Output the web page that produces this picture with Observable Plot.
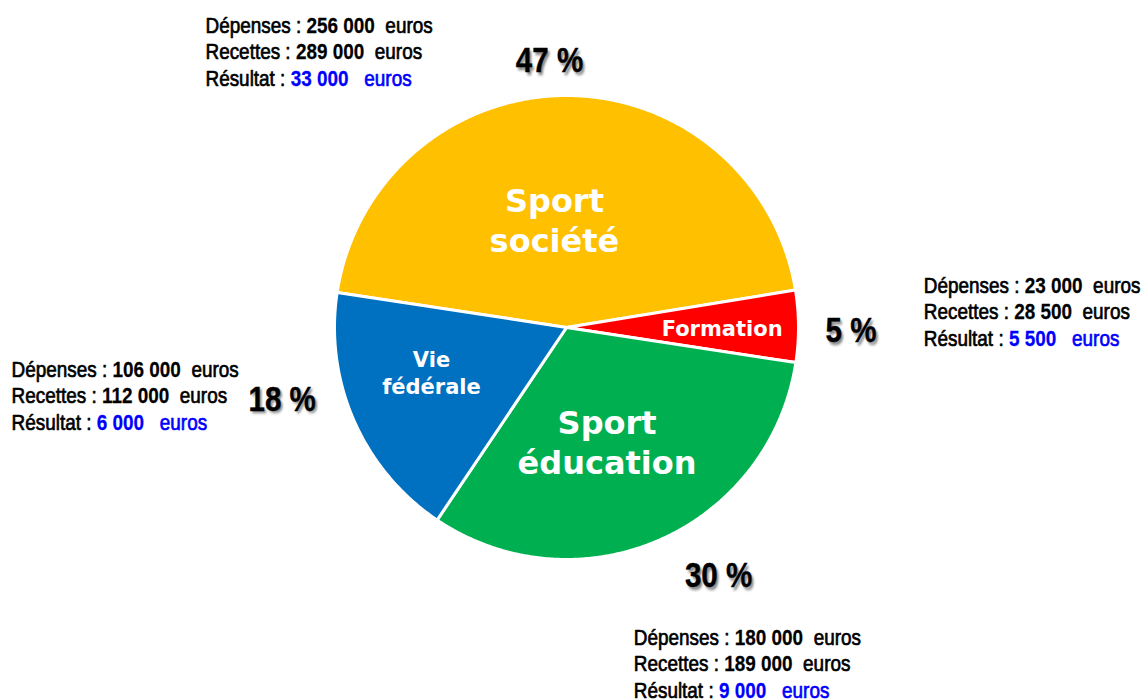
<!DOCTYPE html>
<html>
<head>
<meta charset="utf-8">
<script src="https://cdn.jsdelivr.net/npm/d3@7"></script>
<script src="https://cdn.jsdelivr.net/npm/@observablehq/plot@0.6"></script>
<style>
  html, body { margin: 0; padding: 0; background: #fff; }
  #chart svg { display: block; }
  text[aria-label="pct-shadow"] { filter: url(#softshadow); }
</style>
</head>
<body>
<svg width="0" height="0" style="position:absolute">
  <defs>
    <filter id="softshadow" x="-20%" y="-30%" width="140%" height="160%">
      <feGaussianBlur stdDeviation="1.4"/>
    </filter>
  </defs>
</svg>
<div id="chart"></div>
<script>
// ---------- data ----------
const categories = ["Sport société", "Formation", "Sport éducation", "Vie fédérale"];
const sliceLabels = ["Sport\nsociété", "Formation", "Sport\néducation", "Vie\nfédérale"];
const sliceShares = [45, 5, 32, 18];           // angular share
const percentLabels = ["47 %", "5 %", "30 %", "18 %"];
const lineNames = ["Dépenses", "Recettes", "Résultat"];
const depenses = [256000, 23000, 180000, 106000];
const recettes = [289000, 28500, 189000, 112000];
const resultats = [33000, 5500, 9000, 6000];
const colors = ["#FFC000", "#FF0000", "#00B050", "#0070C0"];

// ---------- layout (pie radius units, y up, origin at pie centre) ----------
const W = 1147, H = 700, R = 232, CX = 566, CY = 327;
const startAngleDeg = -81.3;
const sliceLabelPos = [
  {x: -0.052, y: 0.3246, size: 32, lh: 1.25},
  {x: 0.671, y: -0.0345, size: 21, lh: 1.25},
  {x: 0.175, y: -0.6336, size: 32, lh: 1.28},
  {x: -0.582, y: -0.2845, size: 21, lh: 1.286}
];
const pctPos = [
  {x: -0.0733, y: 1.1004},
  {x: 1.2263, y: -0.0634},
  {x: 0.6552, y: -1.1194},
  {x: -1.2254, y: -0.3578}
];
const notePos = [
  {x: -1.556, y: 1.0431},
  {x: 1.540, y: -0.0776},
  {x: 0.290, y: -1.596},
  {x: -2.392, y: -0.441}
];
const noteLineGap = 26.5;   // px
const noteNarrow = 0.86;    // horizontal condensation to imitate a narrow face
const pctNarrow = 0.82;
const noteFont = "'Liberation Sans', Arial, sans-serif";
const noteSize = 22;

const fr = d3.formatLocale({decimal: ",", thousands: "\u00a0", grouping: [3], currency: ["", " €"]});
const fmt = fr.format(",d");
const sp = n => "\u00a0".repeat(n);

// pie geometry via d3.pie
const arcs = d3.pie().sort(null).value(d => d)
  .startAngle(startAngleDeg * Math.PI / 180)
  .endAngle(startAngleDeg * Math.PI / 180 + 2 * Math.PI)(sliceShares);
const slicePts = [];
arcs.forEach((a, i) => {
  const cat = categories[i];
  slicePts.push({category: cat, x: 0, y: 0});
  const steps = Math.max(4, Math.ceil((a.endAngle - a.startAngle) / (Math.PI / 360)));
  for (let k = 0; k <= steps; k++) {
    const t = a.startAngle + (a.endAngle - a.startAngle) * k / steps;
    slicePts.push({category: cat, x: Math.sin(t), y: Math.cos(t)});
  }
  slicePts.push({category: cat, x: 0, y: 0});
});

const sliceText = categories.map((c, i) => ({category: c, label: sliceLabels[i], ...sliceLabelPos[i]}));
const pctText = categories.map((c, i) => ({label: percentLabels[i], ...pctPos[i]}));

// annotation segments: label, bold number, "euros"
const ctx = document.createElement("canvas").getContext("2d");
const measure = (t, bold) => { ctx.font = `${bold ? "bold " : ""}${noteSize}px ${noteFont}`; return ctx.measureText(t).width * noteNarrow; };
const segs = [];
categories.forEach((c, i) => {
  const vals = [depenses[i], recettes[i], resultats[i]];
  vals.forEach((v, j) => {
    const y = notePos[i].y + (2 - j) * noteLineGap / R;
    const label = `${lineNames[j]}\u00a0:\u00a0`;
    const num = fmt(v);
    const unit = `${sp(j === 2 ? 3 : 2)}euros`;
    const blue = j === 2;
    const w1 = measure(label, false), w2 = measure(num, true);
    segs.push({x: notePos[i].x, y, text: label, bold: false, blue: false});
    segs.push({x: notePos[i].x + w1 / R, y, text: num, bold: true, blue});
    segs.push({x: notePos[i].x + (w1 + w2) / R, y, text: unit, bold: false, blue});
  });
});

const noteMark = (bold, blue) => Plot.text(segs.filter(d => d.bold === bold && d.blue === blue), {
  x: "x", y: "y", text: "text", fill: blue ? "#0000FF" : "#000",
  stroke: blue ? "#0000FF" : "#000", strokeWidth: bold ? 0.25 : 0.7,
  fontSize: noteSize, fontWeight: bold ? "bold" : "normal", fontFamily: noteFont,
  lineAnchor: "bottom", textAnchor: "start", ariaLabel: () => "note"
});

const chart = Plot.plot({
  width: W, height: H, margin: 0,
  x: {domain: [-CX / R, (W - CX) / R], axis: null},
  y: {domain: [-(H - CY) / R, CY / R], axis: null},
  color: {domain: categories, range: colors},
  style: {background: "white"},
  marks: [
    Plot.line(slicePts, {x: "x", y: "y", z: "category", fill: "category", stroke: "white", strokeWidth: 3, strokeLinejoin: "round", curve: "linear"}),
    Plot.text(sliceText.filter(d => d.size > 25), {x: "x", y: "y", text: "label", fill: "white", fontSize: 32, fontWeight: "bold", fontFamily: "DejaVu Sans", lineAnchor: "bottom", lineHeight: 1.26, textAnchor: "middle"}),
    Plot.text(sliceText.filter(d => d.size < 25), {x: "x", y: "y", text: "label", fill: "white", fontSize: 21, fontWeight: "bold", fontFamily: "DejaVu Sans", lineAnchor: "bottom", lineHeight: 1.286, textAnchor: "middle"}),
    Plot.text(pctText, {x: "x", y: "y", text: "label", dx: 2, dy: 2.5, fill: "#000", fillOpacity: 0.5, fontSize: 36, fontWeight: "bold", fontFamily: noteFont, lineAnchor: "bottom", textAnchor: "middle", ariaLabel: () => "pct-shadow"}),
    Plot.text(pctText, {x: "x", y: "y", text: "label", fill: "#000", stroke: "#000", strokeWidth: 0.4, fontSize: 36, fontWeight: "bold", fontFamily: noteFont, lineAnchor: "bottom", textAnchor: "middle", ariaLabel: () => "pct"}),
    noteMark(false, false),
    noteMark(true, false),
    noteMark(true, true),
    noteMark(false, true)
  ]
});
// condense texts horizontally around their anchor (narrow face imitation)
const condense = (sel, k) => d3.select(chart).selectAll(sel).each(function () {
  const t = this.getAttribute("transform") || "";
  this.setAttribute("transform", `${t} scale(${k},1)`);
});
condense('text[aria-label="note"]', noteNarrow);
condense('text[aria-label="pct"], text[aria-label="pct-shadow"]', pctNarrow);
document.getElementById("chart").appendChild(chart);
</script>
</body>
</html>
